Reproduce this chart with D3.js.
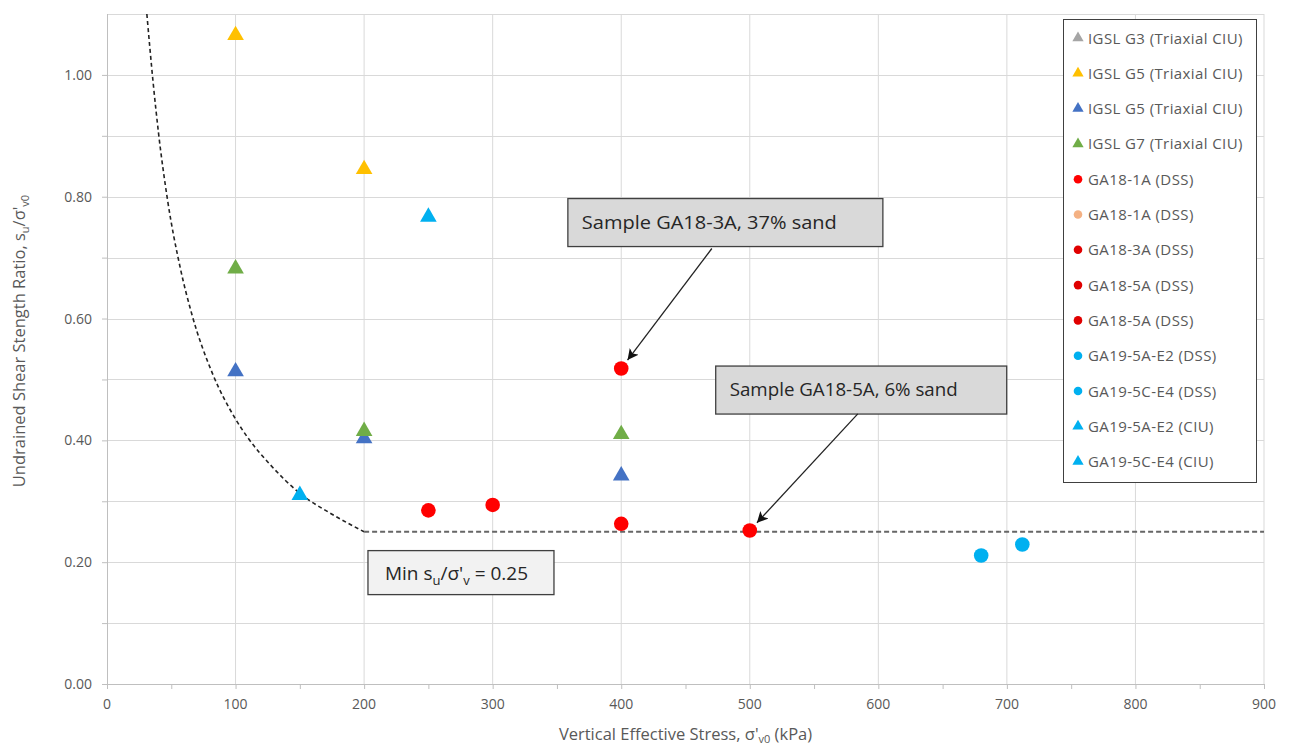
<!DOCTYPE html>
<html><head><meta charset="utf-8">
<script src="https://cdn.jsdelivr.net/npm/d3@7"></script>
<style>
body{margin:0;background:#fff;}
text{font-family:"Open Sans","Noto Sans",sans-serif;}
</style></head>
<body><svg id="c" width="1289" height="749"></svg>
<script>
// ---------- data ----------
const seriesNames = ["IGSL G3 (Triaxial CIU)","IGSL G5 (Triaxial CIU)","IGSL G5 (Triaxial CIU)","IGSL G7 (Triaxial CIU)",
  "GA18-1A (DSS)","GA18-1A (DSS)","GA18-3A (DSS)","GA18-5A (DSS)","GA18-5A (DSS)",
  "GA19-5A-E2 (DSS)","GA19-5C-E4 (DSS)","GA19-5A-E2 (CIU)","GA19-5C-E4 (CIU)"];
const igslG3X = [],              igslG3Y = [];
const igslG5aX = [100, 200],     igslG5aY = [1.065, 0.845];
const igslG5bX = [100, 200, 400], igslG5bY = [0.513, 0.403, 0.342];
const igslG7X = [100, 200, 400], igslG7Y = [0.682, 0.415, 0.410];
const ga181aX = [250, 300],      ga181aY = [0.285, 0.294];
const ga181bX = [],              ga181bY = [];
const ga183aX = [400],           ga183aY = [0.518];
const ga185aX = [500],           ga185aY = [0.252];
const ga185bX = [400],           ga185bY = [0.263];
const ga195aDssX = [680],        ga195aDssY = [0.211];
const ga195cDssX = [712],        ga195cDssY = [0.229];
const ga195aCiuX = [250],        ga195aCiuY = [0.767];
const ga195cCiuX = [150],        ga195cCiuY = [0.310];

// minimum strength envelope
const curveX = [31, 36, 40, 47, 57, 66, 82, 100, 110, 127, 150, 174, 200];
const curveY = [1.10, 0.985, 0.906, 0.796, 0.683, 0.607, 0.51, 0.435, 0.403, 0.36, 0.313, 0.28, 0.25];
const minLineX = [200, 900];
const minLineY = [0.25, 0.25];

const xTicks = [0,100,200,300,400,500,600,700,800,900];
const yTicks = [0,0.2,0.4,0.6,0.8,1.0];

// ---------- styles ----------
const seriesColors = ["#A5A5A5","#FFC000","#4472C4","#70AD47","#FF0000","#F4B183","#FF0000","#FF0000","#FF0000","#00B0F0","#00B0F0","#00B0F0","#00B0F0"];
const legendColors = ["#A5A5A5","#FFC000","#4472C4","#70AD47","#FF0000","#F4B183","#E00000","#E00000","#E00000","#00B0F0","#00B0F0","#00B0F0","#00B0F0"];
const seriesShapes = ["tri","tri","tri","tri","dot","dot","dot","dot","dot","dot","dot","tri","tri"];
const seriesX = [igslG3X,igslG5aX,igslG5bX,igslG7X,ga181aX,ga181bX,ga183aX,ga185aX,ga185bX,ga195aDssX,ga195cDssX,ga195aCiuX,ga195cCiuX];
const seriesY = [igslG3Y,igslG5aY,igslG5bY,igslG7Y,ga181aY,ga181bY,ga183aY,ga185aY,ga185bY,ga195aDssY,ga195cDssY,ga195aCiuY,ga195cCiuY];

const svg = d3.select("#c");
const L = 107, R = 1264, T = 14, B = 684;
const x = d3.scaleLinear().domain([0, 900]).range([L, R]);
const y = d3.scaleLinear().domain([0, 1.1]).range([B, T]);
const grid = "#D9D9D9", axisC = "#BFBFBF", txt = "#595959";

// gridlines
svg.append("g").selectAll("line").data(d3.range(100, 901, 100)).join("line")
  .attr("x1", d => x(d)).attr("x2", d => x(d)).attr("y1", T).attr("y2", B)
  .attr("stroke", grid).attr("stroke-width", 1);
svg.append("g").selectAll("line").data(d3.range(1, 12).map(d => d / 10)).join("line")
  .attr("x1", L).attr("x2", R).attr("y1", d => Math.round(y(d)) + 0.5).attr("y2", d => Math.round(y(d)) + 0.5)
  .attr("stroke", grid).attr("stroke-width", 1);

// axes
const xAxis = d3.axisBottom(x).tickValues(d3.range(0, 901, 50)).tickSize(5).tickFormat("");
const gx = svg.append("g").attr("transform", `translate(0,${B})`).call(xAxis);
gx.select(".domain").attr("stroke", axisC).attr("d", `M${L},0.5H${R}`);
gx.selectAll(".tick line").attr("stroke", axisC);
svg.append("g").selectAll("text").data(xTicks).join("text")
  .attr("x", d => x(d)).attr("y", B + 25).attr("text-anchor", "middle")
  .attr("fill", txt).attr("font-size", 14).text(d => d);

const yAxis = d3.axisLeft(y).tickValues(d3.range(0, 11).map(d => d / 10)).tickSize(5).tickFormat("");
const gy = svg.append("g").attr("transform", `translate(${L},0)`).call(yAxis);
gy.select(".domain").attr("stroke", axisC).attr("d", `M0.5,${T}V${B}`);
gy.selectAll(".tick line").attr("stroke", axisC);
svg.append("g").selectAll("text").data(yTicks).join("text")
  .attr("x", 92).attr("y", d => y(d) + 5).attr("text-anchor", "end")
  .attr("fill", txt).attr("font-size", 14).text(d => d.toFixed(2));

// axis titles
const xt = svg.append("text").attr("x", (L + R) / 2).attr("y", 740).attr("text-anchor", "middle")
  .attr("fill", txt).attr("font-size", 16.5);
xt.append("tspan").text("Vertical Effective Stress, σ'");
xt.append("tspan").attr("font-size", 11).attr("dy", 3).text("v0");
xt.append("tspan").attr("dy", -3).text(" (kPa)");

const yt = svg.append("text").attr("transform", `translate(25,${(T + B) / 2 - 8}) rotate(-90)`)
  .attr("text-anchor", "middle").attr("fill", txt).attr("font-size", 16.5);
yt.append("tspan").text("Undrained Shear Stength Ratio, s");
yt.append("tspan").attr("font-size", 11).attr("dy", 4).text("u");
yt.append("tspan").attr("dy", -4).text("/σ'");
yt.append("tspan").attr("font-size", 11).attr("dy", 4).text("v0");

// envelope lines
const line = d3.line().x(d => x(d[0])).y(d => y(d[1])).curve(d3.curveMonotoneX);
svg.append("path").datum(d3.zip(curveX, curveY)).attr("d", line)
  .attr("fill", "none").attr("stroke", "#222").attr("stroke-width", 1.6).attr("stroke-dasharray", "4,3");
svg.append("path").datum(d3.zip(minLineX, minLineY)).attr("d", d3.line().x(d => x(d[0])).y(d => y(d[1])))
  .attr("fill", "none").attr("stroke", "#666").attr("stroke-width", 2.2).attr("stroke-dasharray", "5,3");

// markers
const triPlot = d3.symbol().type(d3.symbolTriangle).size(120);
seriesNames.forEach((name, i) => {
  const pts = d3.zip(seriesX[i], seriesY[i]);
  const g = svg.append("g");
  if (seriesShapes[i] === "tri") {
    g.selectAll("path").data(pts).join("path").attr("d", triPlot)
      .attr("transform", d => `translate(${x(d[0])},${y(d[1])})`).attr("fill", seriesColors[i]);
  } else {
    g.selectAll("circle").data(pts).join("circle")
      .attr("cx", d => x(d[0])).attr("cy", d => y(d[1])).attr("r", 7.3).attr("fill", seriesColors[i]);
  }
});

// annotations
svg.append("defs").append("marker").attr("id", "ah").attr("viewBox", "0 0 10 10")
  .attr("refX", 10).attr("refY", 5).attr("markerWidth", 11).attr("markerHeight", 11)
  .attr("markerUnits", "userSpaceOnUse").attr("orient", "auto")
  .append("path").attr("d", "M0,0L10,5L0,10L2.5,5Z").attr("fill", "#111");

const annBoxX = [358.5, 473.5];
const annBoxY = [0.797, 0.522];
const annW = [315, 291], annH = [48, 48];
const annText = ["Sample GA18-3A, 37% sand", "Sample GA18-5A, 6% sand"];
const annTextLen = [255, 228];
const arrowFromX = [470.5, 584], arrowFromY = [0.715, 0.4435];
const arrowToX = [ga183aX[0], ga185aX[0]], arrowToY = [ga183aY[0], ga185aY[0]];

annText.forEach((t, i) => {
  const bx = x(annBoxX[i]), by = y(annBoxY[i]);
  svg.append("rect").attr("x", bx).attr("y", by).attr("width", annW[i]).attr("height", annH[i])
    .attr("fill", "#D9D9D9").attr("stroke", "#404040").attr("stroke-width", 1.3);
  svg.append("text").attr("x", bx + 14).attr("y", by + 30).attr("font-size", 19).attr("fill", "#262626")
    .attr("textLength", annTextLen[i]).attr("lengthAdjust", "spacingAndGlyphs").text(t);
  const x1 = x(arrowFromX[i]), y1 = y(arrowFromY[i]);
  const px = x(arrowToX[i]), py = y(arrowToY[i]);
  const dx = px - x1, dy = py - y1, len = Math.hypot(dx, dy);
  const stop = len - 10.5;
  svg.append("line").attr("x1", x1).attr("y1", y1)
    .attr("x2", x1 + dx / len * stop).attr("y2", y1 + dy / len * stop)
    .attr("stroke", "#222").attr("stroke-width", 1.3).attr("marker-end", "url(#ah)");
});

// min box
const minBoxX = 203, minBoxY = 0.219;
const mbx = x(minBoxX), mby = y(minBoxY);
svg.append("rect").attr("x", mbx).attr("y", mby).attr("width", 186).attr("height", 44)
  .attr("fill", "#F2F2F2").attr("stroke", "#404040").attr("stroke-width", 1.3);
const mt = svg.append("text").attr("x", mbx + 17).attr("y", mby + 29).attr("font-size", 19).attr("fill", "#262626");
mt.append("tspan").text("Min s");
mt.append("tspan").attr("font-size", 13).attr("dy", 5).text("u");
mt.append("tspan").attr("dy", -5).text("/σ'");
mt.append("tspan").attr("font-size", 13).attr("dy", 5).text("v");
mt.append("tspan").attr("dy", -5).text(" = 0.25");

// legend
const lg = svg.append("g");
lg.append("rect").attr("x", 1063.5).attr("y", 19.5).attr("width", 193).attr("height", 463)
  .attr("fill", "#fff").attr("stroke", "#404040").attr("stroke-width", 1);
const triLeg = d3.symbol().type(d3.symbolTriangle).size(55);
seriesNames.forEach((name, i) => {
  const cy = 38 + i * 35.3;
  if (seriesShapes[i] === "tri") {
    lg.append("path").attr("d", triLeg).attr("transform", `translate(1078,${cy})`).attr("fill", legendColors[i]);
  } else {
    lg.append("circle").attr("cx", 1078).attr("cy", cy).attr("r", 4.3).attr("fill", legendColors[i]);
  }
  lg.append("text").attr("x", 1088).attr("y", cy + 5.5).attr("font-size", 15).attr("letter-spacing", 0.4)
    .attr("fill", txt).text(name);
});
</script></body></html>
